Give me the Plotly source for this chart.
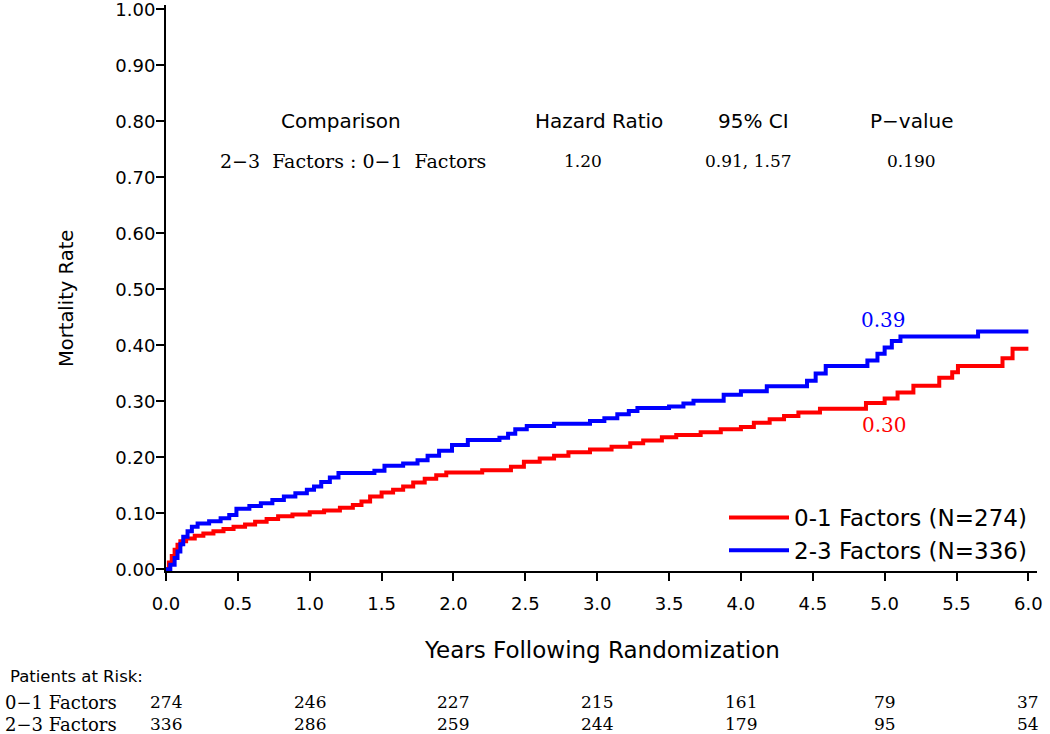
import plotly.graph_objects as go

# ---- data ----
red_t = [0, 0.02, 0.04, 0.06, 0.08, 0.10, 0.14, 0.20, 0.26, 0.33, 0.40, 0.47, 0.55, 0.62, 0.70, 0.78, 0.88,
         1.00, 1.10, 1.21, 1.30, 1.36, 1.42, 1.50, 1.58, 1.65, 1.72, 1.80, 1.88, 1.95, 2.20, 2.40, 2.49, 2.60,
         2.70, 2.80, 2.95, 3.10, 3.23, 3.32, 3.45, 3.55, 3.72, 3.86, 4.00, 4.09, 4.20, 4.30, 4.40, 4.55, 4.87,
         5.00, 5.09, 5.20, 5.38, 5.47, 5.51, 5.82, 5.89, 6.00]
red_v = [0, 0.012, 0.024, 0.035, 0.044, 0.050, 0.055, 0.060, 0.064, 0.068, 0.072, 0.076, 0.080, 0.085, 0.090,
         0.095, 0.098, 0.102, 0.105, 0.110, 0.115, 0.121, 0.130, 0.137, 0.142, 0.148, 0.155, 0.162, 0.168, 0.173,
         0.177, 0.183, 0.192, 0.198, 0.203, 0.209, 0.214, 0.219, 0.225, 0.230, 0.236, 0.240, 0.245, 0.250, 0.254,
         0.262, 0.268, 0.274, 0.280, 0.287, 0.297, 0.305, 0.316, 0.328, 0.342, 0.352, 0.363, 0.377, 0.394, 0.394]

blue_t = [0, 0.03, 0.06, 0.08, 0.10, 0.12, 0.15, 0.18, 0.22, 0.30, 0.38, 0.44, 0.49, 0.58, 0.66, 0.74, 0.82,
          0.90, 0.98, 1.03, 1.08, 1.14, 1.20, 1.45, 1.52, 1.65, 1.75, 1.82, 1.90, 1.99, 2.10, 2.32, 2.38, 2.43,
          2.51, 2.70, 2.95, 3.05, 3.14, 3.22, 3.28, 3.50, 3.60, 3.67, 3.88, 4.00, 4.18, 4.46, 4.52, 4.59, 4.88,
          4.95, 5.00, 5.05, 5.11, 5.65, 6.00]
blue_v = [0, 0.008, 0.020, 0.032, 0.045, 0.058, 0.068, 0.076, 0.082, 0.086, 0.091, 0.097, 0.108, 0.113, 0.118,
          0.124, 0.130, 0.136, 0.142, 0.148, 0.156, 0.164, 0.172, 0.176, 0.185, 0.189, 0.195, 0.203, 0.212, 0.222,
          0.231, 0.235, 0.242, 0.250, 0.256, 0.260, 0.265, 0.270, 0.277, 0.283, 0.288, 0.291, 0.296, 0.301, 0.312,
          0.318, 0.327, 0.337, 0.350, 0.363, 0.373, 0.385, 0.396, 0.408, 0.416, 0.425, 0.425]

series_names = ["0-1 Factors (N=274)", "2-3 Factors (N=336)"]
end_labels = ["0.30", "0.39"]

risk_times = [0, 1, 2, 3, 4, 5, 6]
risk_rows = ["0\u22121 Factors", "2\u22123 Factors"]
risk_01 = [274, 246, 227, 215, 161, 79, 37]
risk_23 = [336, 286, 259, 244, 179, 95, 54]

table_headers = ["Comparison", "Hazard Ratio", "95% CI", "P\u2212value"]
table_row = ["2\u22123\u00a0\u00a0Factors : 0\u22121\u00a0\u00a0Factors", "1.20", "0.91,\u00a01.57", "0.190"]

x_ticks = [0, 0.5, 1, 1.5, 2, 2.5, 3, 3.5, 4, 4.5, 5, 5.5, 6]
y_ticks = [0, 0.1, 0.2, 0.3, 0.4, 0.5, 0.6, 0.7, 0.8, 0.9, 1.0]

SANS = "DejaVu Sans"
SERIF = "DejaVu Serif"


def py(p):
    return (571 - p) / 566


def px(p):
    return (p - 166) / 871


fig = go.Figure()
fig.add_trace(go.Scatter(x=red_t, y=red_v, mode="lines", line=dict(color="#ff0000", width=4, shape="hv"),
                         name=series_names[0]))
fig.add_trace(go.Scatter(x=blue_t, y=blue_v, mode="lines", line=dict(color="#0000ff", width=4, shape="hv"),
                         name=series_names[1]))

ann = []
# comparison table
hdr_x = [1.22, 3.01, 4.09, 5.19]
row_x = [1.30, 2.90, 4.05, 5.19]
for h, xx in zip(table_headers, hdr_x):
    ann.append(dict(x=xx, y=0.80, xref="x", yref="y", text=h, showarrow=False, xanchor="center",
                    yanchor="middle", font=dict(family=SANS, size=20, color="black")))
for i, (r, xx) in enumerate(zip(table_row, row_x)):
    ann.append(dict(x=xx, y=0.73, xref="x", yref="y", text=r, showarrow=False, xanchor="center",
                    yanchor="middle", font=dict(family=SERIF, size=19 if i == 0 else 17, color="black")))

# end labels
ann.append(dict(x=4.99, y=0.446, xref="x", yref="y", text=end_labels[1], showarrow=False,
                xanchor="center", yanchor="middle", font=dict(family=SERIF, size=20, color="#0000ff")))
ann.append(dict(x=5.00, y=0.257, xref="x", yref="y", text=end_labels[0], showarrow=False,
                xanchor="center", yanchor="middle", font=dict(family=SERIF, size=20, color="#ff0000")))

# axis titles
ann.append(dict(x=px(602), y=py(650), xref="paper", yref="paper", text="Years Following Randomization",
                showarrow=False, xanchor="center", yanchor="middle",
                font=dict(family=SANS, size=23, color="black")))
ann.append(dict(x=px(66), y=py(299), xref="paper", yref="paper", text="Mortality Rate", textangle=-90,
                showarrow=False, xanchor="center", yanchor="middle",
                font=dict(family=SANS, size=19.5, color="black")))

# risk table
ann.append(dict(x=px(8), y=py(676), xref="paper", yref="paper", text="Patients at Risk:", showarrow=False,
                xanchor="left", yanchor="middle", font=dict(family=SANS, size=16.5, color="black")))
for lbl, vals, yy in zip(risk_rows, [risk_01, risk_23], [702, 724]):
    ann.append(dict(x=px(3), y=py(yy), xref="paper", yref="paper", text=lbl, showarrow=False,
                    xanchor="left", yanchor="middle", font=dict(family=SERIF, size=18, color="black")))
    for t, v in zip(risk_times, vals):
        ann.append(dict(x=t, y=py(yy), xref="x", yref="paper", text=str(v), showarrow=False,
                        xanchor="center", yanchor="middle", font=dict(family=SERIF, size=17, color="black")))

fig.update_layout(
    width=1050, height=734,
    margin=dict(l=166, r=13, t=5, b=163, autoexpand=False),
    paper_bgcolor="white", plot_bgcolor="white",
    showlegend=True,
    legend=dict(x=px(724), y=py(496), xanchor="left", yanchor="top", bgcolor="rgba(0,0,0,0)",
                font=dict(family=SANS, size=23, color="black"), tracegroupgap=0, itemwidth=60),
    annotations=ann,
    xaxis=dict(range=[0, 6.06], tickvals=x_ticks, ticktext=[f"{v:.1f}" for v in x_ticks],
               showgrid=False, zeroline=False, showline=True, linecolor="black", linewidth=2,
               ticks="outside", ticklen=8, tickwidth=2, tickcolor="black", ticklabelstandoff=7,
               ticklabeloverflow="allow", automargin=False,
               tickfont=dict(family=SANS, size=18, color="black")),
    yaxis=dict(range=[-0.003, 1.008], tickvals=y_ticks, ticktext=[f"{v:.2f}" for v in y_ticks],
               showgrid=False, zeroline=False, showline=True, linecolor="black", linewidth=2,
               ticks="outside", ticklen=8, tickwidth=2, tickcolor="black", ticklabelstandoff=-3,
               ticklabeloverflow="allow", automargin=False,
               tickfont=dict(family=SANS, size=18, color="black")),
)

fig.write_html("out.html", config={"displayModeBar": False},
               post_script="document.body.style.margin='0';document.body.style.overflow='hidden';")
